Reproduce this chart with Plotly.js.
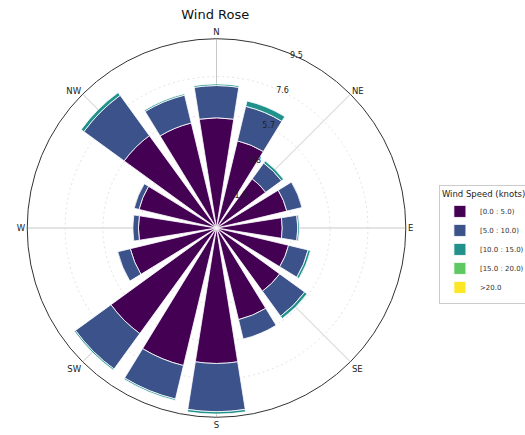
<!DOCTYPE html>
<html>
<head>
<meta charset="utf-8">
<script src="https://cdn.plot.ly/plotly-3.0.1.min.js"></script>
<style>
  html, body { margin: 0; padding: 0; background: #fff; }
  #chart { width: 525px; height: 435px; }
</style>
</head>
<body>
<div id="chart"></div>
<script>
// Sixteen compass sectors, clockwise from north
const directions = ['N', 'NNE', 'NE', 'ENE', 'E', 'ESE', 'SE', 'SSE',
                    'S', 'SSW', 'SW', 'WSW', 'W', 'WNW', 'NW', 'NNW'];

// Frequency (%) per speed bin and sector
const speed0to5   = [5.53, 4.50, 3.05, 3.63, 3.30, 3.72, 3.92, 4.73, 6.80, 7.10, 6.55, 4.45, 3.92, 4.00, 5.73, 5.42];
const speed5to10  = [1.62, 1.78, 0.98, 0.78, 0.78, 1.01, 1.55, 1.00, 2.42, 1.73, 2.20, 0.65, 0.28, 0.25, 2.50, 1.44];
const speed10to15 = [0.08, 0.28, 0.13, 0.00, 0.08, 0.12, 0.15, 0.00, 0.12, 0.07, 0.07, 0.00, 0.00, 0.00, 0.17, 0.07];
const speed15to20 = [0, 0, 0, 0, 0, 0, 0, 0, 0, 0, 0, 0, 0, 0, 0, 0];
const speedOver20 = [0, 0, 0, 0, 0, 0, 0, 0, 0, 0, 0, 0, 0, 0, 0, 0];

const binLabels = ['[0.0 : 5.0)', '[5.0 : 10.0)', '[10.0 : 15.0)', '[15.0 : 20.0)', '>20.0'];
const binColors = ['#440154', '#3b528b', '#21918c', '#5ec962', '#fde725'];

const radialTicks = [1.9, 3.8, 5.7, 7.6, 9.5];
const compassLabels = ['N', 'NE', 'E', 'SE', 'S', 'SW', 'W', 'NW'];

const sectorAngle = 360 / directions.length;
const theta = directions.map((_, i) => i * sectorAngle);
const series = [speed0to5, speed5to10, speed10to15, speed15to20, speedOver20];

const traces = series.map((vals, k) => ({
  type: 'barpolar',
  name: binLabels[k],
  r: vals,
  theta: theta,
  width: directions.map(() => sectorAngle * 0.8),
  customdata: directions,
  hovertemplate: '%{customdata}: %{r}<extra>' + binLabels[k] + '</extra>',
  marker: { color: binColors[k], line: { color: '#ffffff', width: 0.8 } }
}));

const font = 'DejaVu Sans, Arial, sans-serif';

const layout = {
  width: 525,
  height: 435,
  margin: { l: 0, r: 0, t: 0, b: 0, autoexpand: false },
  paper_bgcolor: '#ffffff',
  font: { family: font, color: '#222', size: 9 },
  title: {
    text: 'Wind Rose',
    font: { family: font, size: 13, color: '#111' },
    xref: 'container', yref: 'container',
    x: 0.41, xanchor: 'center',
    y: 0.966, yanchor: 'middle'
  },
  showlegend: true,
  legend: {
    x: 0.836, xanchor: 'left',
    y: 0.575, yanchor: 'top',
    traceorder: 'normal',
    bgcolor: '#ffffff',
    bordercolor: '#cccccc',
    borderwidth: 1,
    font: { family: font, size: 7, color: '#333' },
    title: { text: 'Wind Speed (knots)', font: { family: font, size: 8.5, color: '#222' } },
    itemwidth: 30
  },
  polar: {
    domain: { x: [0.0518, 0.773], y: [0.0407, 0.911] },
    bgcolor: '#ffffff',
    barmode: 'stack',
    radialaxis: {
      range: [0, 9.5],
      tickmode: 'array',
      tickvals: radialTicks,
      ticktext: radialTicks.map(v => v.toFixed(1)),
      angle: 68.5,
      tickangle: 68.5,
      showline: false,
      ticks: '',
      tickfont: { family: font, size: 8, color: '#222' },
      gridcolor: '#dadada',
      griddash: '2px,3px',
      gridwidth: 0.8,
      layer: 'above traces'
    },
    angularaxis: {
      rotation: 90,
      direction: 'clockwise',
      tickmode: 'array',
      tickvals: compassLabels.map((_, i) => i * 45),
      ticktext: compassLabels,
      ticks: '',
      showline: true,
      linecolor: '#333333',
      linewidth: 1,
      gridcolor: '#c8c8c8',
      gridwidth: 1,
      tickfont: { family: font, size: 8.5, color: '#222' },
      layer: 'above traces'
    }
  }
};

Plotly.newPlot('chart', traces, layout, { displayModeBar: false, staticPlot: true });
</script>
</body>
</html>
